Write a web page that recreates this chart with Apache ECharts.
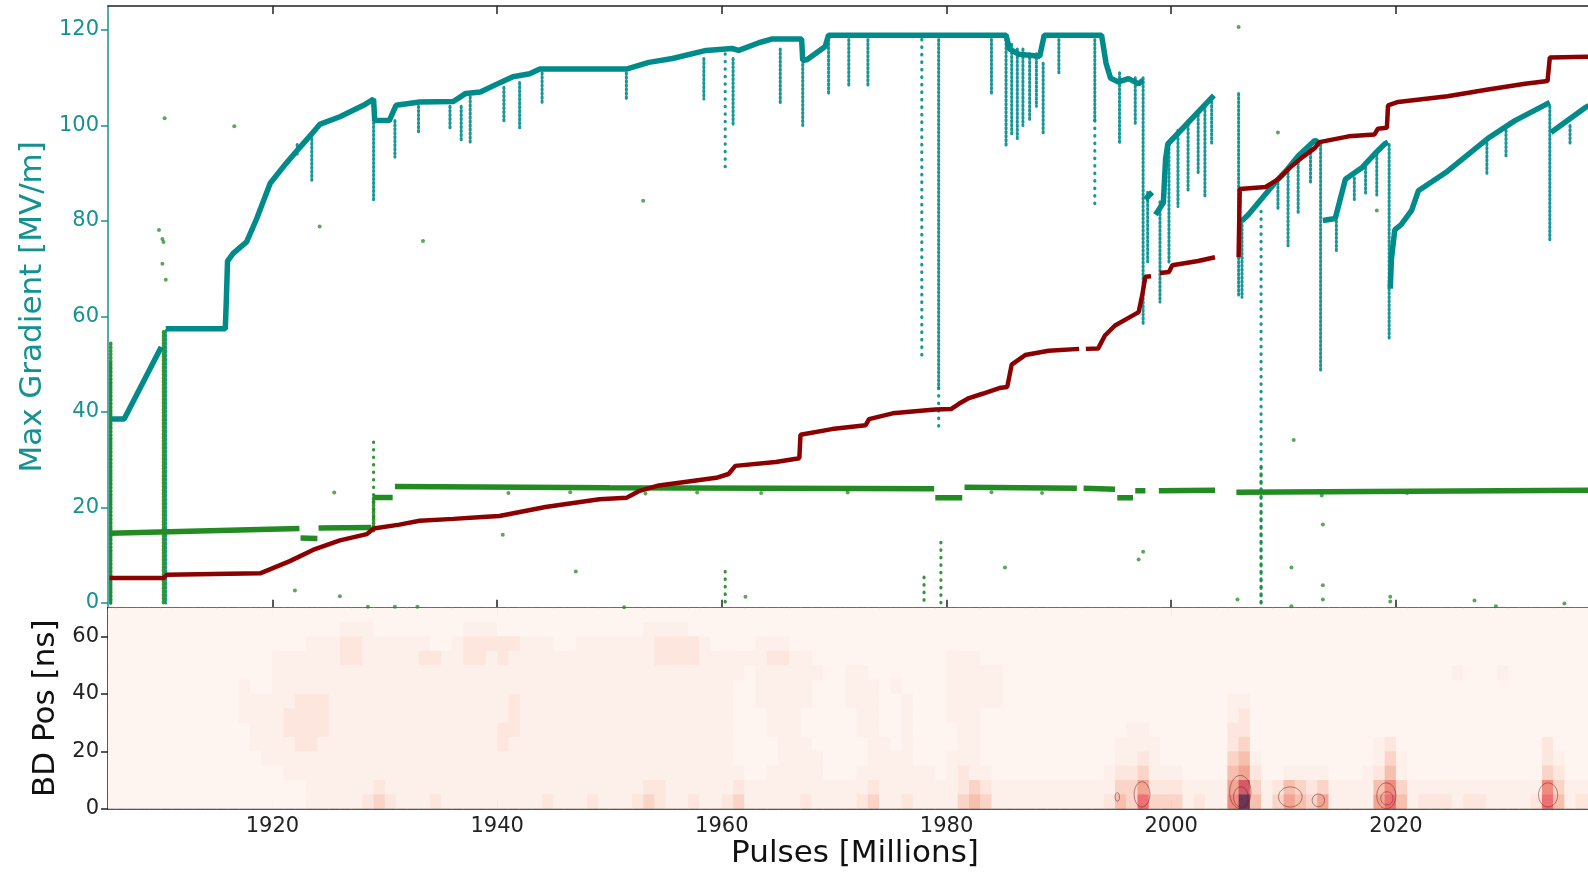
<!DOCTYPE html>
<html>
<head>
<meta charset="utf-8">
<title>Max Gradient / BD Pos</title>
<script src="https://cdn.jsdelivr.net/npm/echarts@6.0.0/dist/echarts.min.js"></script>
<style>
    html, body { margin: 0; padding: 0; background: #fff; }
    #chartMain { width: 1588px; height: 876px; }
</style>
</head>
<body>
<div id="chartMain"></div>
<script>
    // x ticks (millions of pulses) and y ticks
    const xTicks = [1920, 1940, 1960, 1980, 2000, 2020];
    const gradTicks = [0, 20, 40, 60, 80, 100, 120];
    const bdTicks = [0, 20, 40, 60];

    // max gradient envelope, null = break
    const tealLine = [
        [1905.7, 38.5], [1906.8, 38.5], [1910.1, 53.6], null,
        [1910.5, 57.4], [1915.8, 57.4], [1915.9, 64], [1916.0, 71.6], [1916.5, 73.2], [1917.7, 75.6],
        [1918.6, 80.5], [1919.8, 87.9], [1921.2, 92.0], [1922.4, 95.3], [1923.6, 98.5], [1924.2, 100.2],
        [1926.0, 101.8], [1928.1, 104.2], [1929.0, 105.5], [1929.1, 101.0], [1930.4, 101.0], [1931.0, 104.2],
        [1933.1, 104.9], [1936.1, 105.0], [1937.2, 106.7], [1938.5, 107.0], [1940.2, 108.9], [1941.4, 110.2],
        [1942.9, 110.8], [1943.8, 111.8], [1951.5, 111.8], [1953.5, 113.2], [1955.6, 114.0], [1958.6, 115.7],
        [1960.9, 116.1], [1961.5, 115.7], [1963.3, 117.3], [1964.5, 118.1], [1967.1, 118.1], [1967.2, 113.6],
        [1967.6, 113.8], [1969.2, 116.5], [1969.5, 118.9], [1985.3, 118.9], [1985.6, 116], [1986.4, 114.9],
        [1988.3, 114.5], [1988.7, 118.9], [1993.8, 118.9], [1994.2, 113], [1994.6, 109.9], [1995.3, 109.1],
        [1996.2, 109.8], [1997.1, 108.7], [1997.5, 109.5], null,
        [1997.7, 84.5], [1998.3, 86.0], null,
        [1998.6, 81.3], [1999.3, 83.8], [1999.5, 93], [1999.7, 96.1], [2003.8, 106.3], null,
        [2006.3, 80.0], [2006.9, 81.4], [2009.5, 88.7], [2010.2, 90.4], [2011.3, 93.6], [2012.8, 96.9], [2013.2, 96.2], null,
        [2013.5, 80.1], [2014.6, 80.5], [2015.5, 88.7], [2017.0, 91.2], [2018.1, 94.0], [2019.0, 96.1], [2019.3, 96.5], null,
        [2019.5, 65.8], [2019.6, 72], [2019.9, 78.1], [2020.5, 79.3], [2021.4, 82.2], [2022.0, 86.3], [2024.6, 90.4],
        [2028.2, 97.3], [2030.6, 101.0], [2033.2, 104.2], [2033.7, 104.8], null,
        [2033.8, 98.5], [2036.9, 103.8], [2037.2, 104.1]
    ];

    // gradient drops: [x, top, bottom]
    const tealDropsDense = [
        [1905.6, 50.3, 0], [1910.5, 57, 0], [1922.2, 96, 93.5], [1923.5, 98, 88.5], [1929.0, 104, 84],
        [1930.9, 101, 93.4], [1933.0, 104, 98.5], [1935.8, 104, 99], [1936.8, 104, 97], [1937.6, 106, 96.5],
        [1940.6, 108, 100.5], [1942.0, 109, 99.5], [1944.0, 111, 104.5], [1951.5, 111, 105.5], [1958.4, 114, 105.5],
        [1961.0, 114, 99.8], [1965.2, 116, 104.5], [1967.2, 117, 100], [1969.5, 118, 106.3], [1971.3, 118, 108.3],
        [1973.0, 118, 108.1], [1979.3, 118, 45], [1984.0, 118, 106.7], [1985.3, 118, 95.5], [1985.8, 117, 98],
        [1986.3, 116, 97], [1986.8, 116, 100], [1987.4, 115, 101], [1988.0, 115, 104], [1988.6, 113, 98],
        [1990.0, 118, 111], [1993.2, 118, 101], [1995.4, 111, 96.2], [1996.8, 110, 100], [1997.5, 110, 58.5],
        [1997.9, 86, 71], [1999.0, 84, 63], [1999.8, 96, 71], [2000.6, 99, 83], [2001.5, 101, 86],
        [2002.4, 103, 90], [2003.0, 104, 85], [2003.6, 105, 96], [2006.0, 106.7, 64], [2006.3, 80, 64],
        [2009.5, 88, 82.6], [2010.4, 91, 74.6], [2011.3, 93, 81.4], [2012.4, 96, 88], [2013.3, 96, 48.7],
        [2014.7, 80, 73.6], [2016.3, 89, 84], [2017.3, 92, 85.4], [2018.3, 94, 85.4], [2019.4, 96, 55.5],
        [2028.1, 97, 89.8], [2029.8, 99, 93.6], [2033.7, 104, 75.6], [2035.5, 100, 96.3]
    ];
    const tealDropsSparse = [
        [1960.3, 115, 90.5], [1977.8, 118, 51], [1979.3, 45, 36], [1993.2, 101, 83], [2008.0, 82, 0]
    ];

    // green band, null = break
    const greenLine = [
        [1905.5, 14.6], [1922.4, 15.6], null, [1922.5, 13.6], [1924.0, 13.5], null,
        [1924.1, 15.7], [1928.8, 15.8], null, [1929.0, 22.1], [1930.7, 22.1], null,
        [1930.9, 24.4], [1950, 24.1], [1978.9, 23.9], null, [1979.0, 22.0], [1981.4, 22.0], null,
        [1981.6, 24.2], [1991.6, 24.0], null, [1992.2, 24.0], [1995.0, 23.8], null,
        [1995.2, 22.0], [1996.6, 22.0], null, [1996.8, 23.5], [1997.7, 23.5], null,
        [1998.9, 23.5], [2003.9, 23.6], null, [2005.8, 23.2], [2037.2, 23.6]
    ];
    const greenDropsDense = [[1905.6, 54.4, 0], [1910.3, 56.8, 0], [1929.0, 22, 15]];
    const greenDropsSparse = [
        [1929.0, 33.7, 17.6], [1978.0, 5.4, 0], [1979.5, 12.7, 0], [2008.0, 28.3, 0], [1960.3, 6.6, 0]
    ];
    const greenDots = [
        [1910.4, 101.5], [1916.6, 99.8], [1924.2, 78.8], [1933.4, 75.8], [1909.9, 78.1], [1910.2, 76.2],
        [1910.3, 75.6], [1910.2, 71.0], [1910.5, 67.7], [1922.0, 2.6], [1926.0, 1.4], [1928.5, -0.8],
        [1930.9, -0.8], [1932.9, -0.8], [1953.0, 84.2], [1947.0, 6.6], [1962.1, 1.3], [1951.3, -0.9],
        [2006.0, 120.6], [2009.5, 98.5], [2018.3, 82.2], [2010.9, 34.1], [2013.5, 16.4], [2010.7, 7.4],
        [2013.5, 3.7], [1985.2, 7.4], [1997.1, 9.1], [1997.5, 10.7], [2005.9, 0.7], [2010.7, -0.7],
        [2013.5, 0.7], [2019.5, 1.3], [2019.5, 0.3], [2027.0, 0.5], [2028.9, -0.7], [2035.0, -0.1],
        [1925.5, 23.1], [1941.0, 23.0], [1946.5, 23.2], [1953.2, 22.9], [1957.8, 23.1], [1963.5, 23.0],
        [1971.2, 23.1], [1984.0, 23.2], [1988.5, 23.0], [2013.4, 22.5], [2021.0, 23.0], [1940.5, 14.3]
    ];

    // cumulative breakdowns (same axis), null = break
    const redLine = [
        [1905.5, 5.2], [1910.3, 5.2], [1910.6, 5.9], [1918.9, 6.2], [1921.5, 8.7], [1923.6, 11.1],
        [1926.0, 13.1], [1928.4, 14.4], [1929.0, 15.6], [1931.3, 16.4], [1933.1, 17.2], [1936.1, 17.6],
        [1938.7, 18.0], [1940.2, 18.2], [1944.3, 20.1], [1949.1, 21.7], [1951.5, 22.0], [1952.6, 23.4],
        [1954.4, 24.6], [1959.5, 26.2], [1960.6, 27.0], [1961.2, 28.7], [1964.8, 29.5], [1966.9, 30.3],
        [1967.0, 35.2], [1969.8, 36.4], [1972.8, 37.2], [1973.1, 38.5], [1975.2, 39.7], [1979.0, 40.5],
        [1980.4, 40.6], [1981.1, 41.7], [1982.0, 42.9], [1983.2, 43.8], [1984.7, 45.0], [1985.4, 45.2],
        [1985.8, 49.9], [1987.0, 51.9], [1989.1, 52.8], [1991.8, 53.2], null,
        [1992.4, 53.2], [1993.5, 53.3], [1994.1, 56.0], [1995.0, 58.1], [1996.2, 59.7], [1997.1, 60.9],
        [1997.4, 64.2], [1997.7, 68.3], [1998.2, 68.4], null,
        [1999.0, 69.1], [1999.8, 69.3], [2000.1, 70.7], [2002.4, 71.6], [2003.9, 72.4], null,
        [2006.0, 72.4], [2006.1, 86.7], [2008.4, 87.1], [2009.5, 88.7], [2010.6, 91.2], [2011.6, 93.2],
        [2012.8, 95.3], [2013.2, 96.5], [2015.8, 97.7], [2018.1, 98.1], [2018.4, 99.3], [2019.2, 99.5],
        [2019.3, 104.2], [2020.2, 104.9], [2024.6, 106.1], [2028.2, 107.5], [2031.5, 108.7], [2033.5, 109.3],
        [2033.7, 114.2], [2037.2, 114.4]
    ];

    // BD position density, 1 Mpulse columns from 1900, 5 ns rows (top row = 65-70 ns)
    // groups: 1900s 1910s 1920s ... 2030s
    const heatRowBottoms = [65, 60, 55, 50, 45, 40, 35, 30, 25, 20, 15, 10, 5, 0];
    const heatRows = [
        '0000000000 0000000000 0000000000 0000000000 0000000000 0000000000 0000000000 0000000000 0000000000 0000000000 0000000000 0000000000 0000000000 0000000000',
        '0000000000 0000000000 0000001110 0000000111 0000000000 0001111000 0000000000 0000000000 0000000000 0000000000 0000000000 0000000000 0000000000 0000000000',
        '0000000000 0000000000 0001112211 1111001222 2211100111 1111222210 0001110000 0000000000 0000000000 0000000000 0000000000 0000000000 0000000000 0000000000',
        '0000000000 0000000000 1111112211 1112211221 2111111111 1111222211 1111221100 0000000000 1110000000 0000000000 0000000000 0000000000 0000000000 0000000000',
        '0000000000 0000000000 1111111111 1111111111 1111111111 1111111111 1101111110 0110000000 1111100000 0000000000 0000000000 0000000000 0000010001 0000000000',
        '0000000000 0000000100 1111111111 1111111111 1111111111 1111111111 1001111100 0111010000 1111100000 0000000000 0000000000 0000000000 0000000000 0000000000',
        '0000000000 0000000111 1122211111 1111111111 1211111111 1111111111 1001111100 0111001000 1111100000 0000000000 0000011000 0000000000 0000000000 0000000000',
        '0000000000 0000000111 1222211111 1111111111 1211111111 1111111111 1000111000 0011001000 1110000000 0000000000 0000012000 0000000000 0000000000 0000000000',
        '0000000000 0000000011 1222211111 1111111111 2211111111 1111111111 1000111000 0011001000 0110000000 0000001100 0000022000 0000000000 0000000000 0000000000',
        '0000000000 0000000011 1122111111 1111111111 2111111111 1111111111 1000011100 0001101000 0110000000 0000011110 0000023000 0000000012 0000000000 0002000000',
        '0000000000 0000000001 1111111111 1111111111 1111111111 1111111111 1000011110 0001111000 1110000000 0000011210 0000034100 0000000013 1000000000 0002100000',
        '0000000000 0000000000 0111111111 1111111111 1111111111 1111111111 1100111110 0011111110 1211000000 0000122311 1000045200 1111000124 1000000000 0003200000',
        '0000000000 0000000000 0001111112 1111111111 1111111111 1112211111 1211111111 1112111111 1232111111 1111133522 2111158312 4323111146 3111111111 1116311100',
        '0000000000 0000000000 0001111123 2111211111 1111211121 1123211211 2311111211 1123112111 1343111111 1111243733 3121169413 5435111157 4122212211 1127412200'
    ];
    const heatColors = ['#fef4f0', '#fdefe9', '#fce6dd', '#fad5c7', '#f7bfad', '#f3a593', '#f08b7e', '#ee7070', '#d45a66', '#6e3656'];

    // contour rings: [x, y, half width, half height]
    const contours = [
        [1997.4, 5.0, 0.7, 4.4], [1995.2, 4.1, 0.2, 1.5], [2006.15, 5.8, 0.95, 5.8], [2006.2, 4.1, 0.65, 3.5],
        [2010.6, 4.1, 1.05, 3.5], [2013.1, 2.9, 0.55, 2.2], [2019.15, 4.5, 0.85, 4.5], [2019.2, 3.6, 0.55, 2.3],
        [2033.55, 4.8, 0.85, 4.2]
    ];

    let heatData = [];
    heatRows.forEach((row, r) => {
        let s = row.replace(/\s/g, '');
        for (let j = 0; j < s.length; j++) {
            heatData.push([1900 + j, heatRowBottoms[r], +s[j]]);
        }
    });

    const TEAL = '#008b8b';
    const GREEN = '#228b22';
    const RED = '#8b0000';
    const FONT = 'DejaVu Sans';

    function dropSeries(data, color, width, dash, opacity) {
        return {
            type: 'custom',
            xAxisIndex: 0,
            yAxisIndex: 0,
            clip: true,
            encode: { x: 0, y: [1, 2] },
            data: data,
            renderItem(params, api) {
                let a = api.coord([api.value(0), api.value(1)]);
                let b = api.coord([api.value(0), api.value(2)]);
                return {
                    type: 'line',
                    shape: { x1: a[0], y1: a[1], x2: b[0], y2: b[1] },
                    style: { stroke: color, lineWidth: width, lineDash: dash, lineCap: 'round', opacity: opacity }
                };
            }
        };
    }

    function xAxisCfg(grid, pos, labels) {
        return {
            type: 'value', gridIndex: grid, position: pos,
            min: 1905.36, max: 2037.1,
            axisLine: { show: true, onZero: false, lineStyle: { color: '#222', width: 1.5 } },
            axisTick: { show: true, inside: true, length: 8, customValues: xTicks, lineStyle: { color: '#222', width: 1.5 } },
            axisLabel: {
                show: labels, customValues: xTicks, margin: 7, color: '#222', fontFamily: FONT, fontSize: 21,
                formatter: (v) => String(v)
            },
            splitLine: { show: false }
        };
    }

    let myChart = echarts.init(document.getElementById('chartMain'));
    myChart.setOption({
        animation: false,
        backgroundColor: '#fff',
        grid: [
            { left: 108, right: 0, top: 6, height: 601.7 },
            { left: 108, right: 0, top: 607.7, height: 201 }
        ],
        xAxis: [
            xAxisCfg(0, 'bottom', false),
            xAxisCfg(0, 'top', false),
            Object.assign(xAxisCfg(1, 'bottom', true), {
                name: 'Pulses [Millions]', nameLocation: 'middle', nameGap: 30,
                nameTextStyle: { fontFamily: FONT, fontSize: 31, color: '#111', padding: [0, 0, 0, 14] }
            }),
            xAxisCfg(1, 'top', false)
        ],
        yAxis: [
            {
                type: 'value', gridIndex: 0, min: -1, max: 125,
                name: 'Max Gradient [MV/m]', nameLocation: 'middle', nameGap: 58,
                nameTextStyle: { fontFamily: FONT, fontSize: 31, color: '#169191' },
                axisLine: { show: true, lineStyle: { color: '#1a9090', width: 1.5 } },
                axisTick: { show: true, length: 7, customValues: gradTicks, lineStyle: { color: '#1a9090', width: 1.5 } },
                axisLabel: { customValues: gradTicks, margin: 9, color: '#169191', fontFamily: FONT, fontSize: 21 },
                splitLine: { show: false }
            },
            {
                type: 'value', gridIndex: 1, min: 0, max: 70,
                name: 'BD Pos [ns]', nameLocation: 'middle', nameGap: 45,
                nameTextStyle: { fontFamily: FONT, fontSize: 31, color: '#111' },
                axisLine: { show: true, lineStyle: { color: '#222', width: 1.5 } },
                axisTick: { show: true, length: 7, customValues: bdTicks, lineStyle: { color: '#222', width: 1.5 } },
                axisLabel: { customValues: bdTicks, margin: 9, color: '#222', fontFamily: FONT, fontSize: 21 },
                splitLine: { show: false }
            }
        ],
        visualMap: {
            type: 'continuous', show: false, seriesIndex: 0, dimension: 2,
            min: 0, max: 9, inRange: { color: heatColors }
        },
        series: [
            {
                type: 'custom',
                xAxisIndex: 2,
                yAxisIndex: 1,
                encode: { x: 0, y: 1 },
                data: heatData,
                renderItem(params, api) {
                    let x0 = api.value(0), y0 = api.value(1);
                    let p1 = api.coord([x0, y0 + 5]);
                    let p2 = api.coord([x0 + 1, y0]);
                    let cs = params.coordSys;
                    let rect = echarts.graphic.clipRectByRect(
                        { x: p1[0], y: p1[1], width: p2[0] - p1[0] + 0.5, height: p2[1] - p1[1] + 0.5 },
                        { x: cs.x, y: cs.y, width: cs.width, height: cs.height }
                    );
                    return rect && { type: 'rect', shape: rect, style: { fill: api.visual('color') } };
                }
            },
            {
                type: 'custom',
                xAxisIndex: 2,
                yAxisIndex: 1,
                clip: true,
                encode: { x: 0, y: 1 },
                data: contours,
                renderItem(params, api) {
                    let c = api.coord([api.value(0), api.value(1)]);
                    let s = api.size([api.value(2), api.value(3)]);
                    return {
                        type: 'ellipse',
                        shape: { cx: c[0], cy: c[1], rx: s[0], ry: s[1] },
                        style: { fill: null, stroke: 'rgba(110,30,40,0.5)', lineWidth: 1 }
                    };
                }
            },
            dropSeries(tealDropsDense, TEAL, 3, [1.5, 2.5], 0.9),
            dropSeries(tealDropsSparse, TEAL, 3.2, [0.5, 7], 0.9),
            {
                type: 'line', xAxisIndex: 0, yAxisIndex: 0,
                data: tealLine, showSymbol: false, connectNulls: false,
                lineStyle: { color: TEAL, width: 5.5 }
            },
            {
                type: 'line', xAxisIndex: 0, yAxisIndex: 0,
                data: greenLine, showSymbol: false, connectNulls: false,
                lineStyle: { color: GREEN, width: 5.5 }
            },
            dropSeries(greenDropsDense, GREEN, 3.5, [1.5, 2], 0.9),
            dropSeries(greenDropsSparse, GREEN, 3.2, [0.5, 7], 0.9),
            {
                type: 'scatter', xAxisIndex: 0, yAxisIndex: 0,
                data: greenDots, symbolSize: 4,
                itemStyle: { color: GREEN, opacity: 0.75 }
            },
            {
                type: 'line', xAxisIndex: 0, yAxisIndex: 0,
                data: redLine, showSymbol: false, connectNulls: false,
                lineStyle: { color: RED, width: 4.5 }
            }
        ]
    });
</script>
</body>
</html>
